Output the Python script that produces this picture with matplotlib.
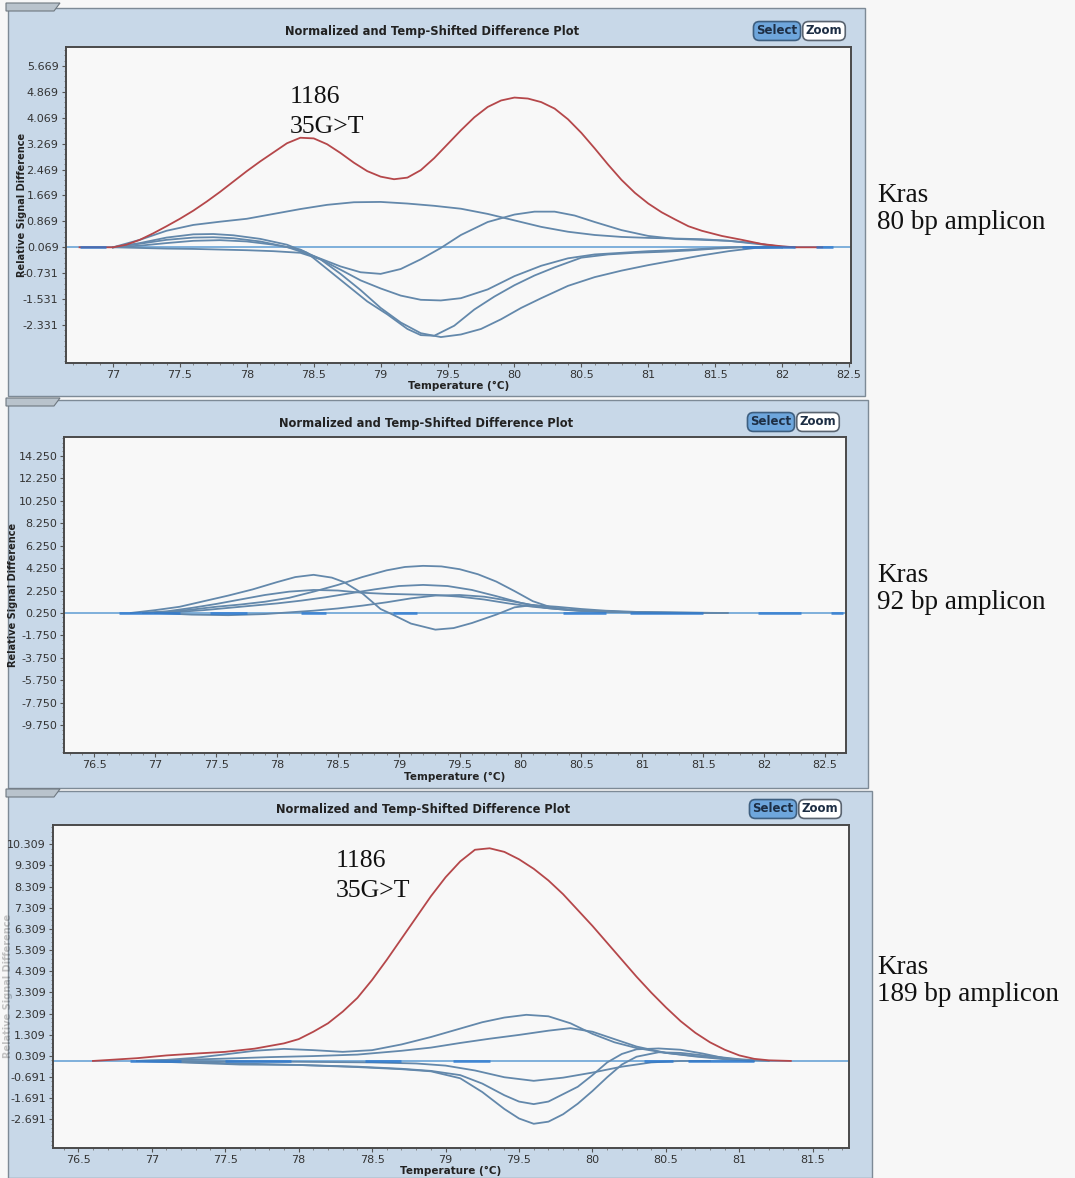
import matplotlib
matplotlib.use("Agg")
import matplotlib.pyplot as plt
from matplotlib.patches import Rectangle, Polygon
from matplotlib.ticker import FixedLocator, AutoMinorLocator

# ---- 80 bp amplicon (top) ----
t80_xticks = [77, 77.5, 78, 78.5, 79, 79.5, 80, 80.5, 81, 81.5, 82, 82.5]
t80_yticks = [5.669, 4.869, 4.069, 3.269, 2.469, 1.669, 0.869, 0.069, -0.731, -1.531, -2.331]
t80_base = 0.069
t80_red_x = [76.75, 77.0, 77.1, 77.2, 77.3, 77.4, 77.5, 77.6, 77.7, 77.8, 77.9, 78.0, 78.1, 78.2,
             78.3, 78.4, 78.5, 78.6, 78.7, 78.8, 78.9, 79.0, 79.1, 79.2, 79.3, 79.4, 79.5, 79.6,
             79.7, 79.8, 79.9, 80.0, 80.1, 80.2, 80.3, 80.4, 80.5, 80.6, 80.7, 80.8, 80.9, 81.0,
             81.1, 81.2, 81.3, 81.4, 81.55, 81.7, 81.85, 82.0, 82.1, 82.3]
t80_red_y = [0.07, 0.07, 0.15, 0.3, 0.5, 0.72, 0.95, 1.2, 1.48, 1.78, 2.1, 2.42, 2.72, 3.0,
             3.28, 3.45, 3.43, 3.25, 2.98, 2.68, 2.42, 2.25, 2.17, 2.22, 2.45, 2.82, 3.25, 3.68,
             4.08, 4.4, 4.6, 4.69, 4.66, 4.55, 4.35, 4.02, 3.6, 3.12, 2.62, 2.15, 1.75, 1.42,
             1.15, 0.93, 0.72, 0.58, 0.42, 0.3, 0.17, 0.1, 0.07, 0.07]
t80_blue = [
    ([77.0, 77.2, 77.4, 77.6, 77.8, 78.0, 78.2, 78.4, 78.6, 78.8, 79.0, 79.2, 79.4, 79.6, 79.8,
      80.0, 80.2, 80.4, 80.6, 80.8, 81.0, 81.2, 81.4, 81.6, 81.8, 82.0, 82.1],
     [0.07, 0.3, 0.58, 0.76, 0.86, 0.95, 1.1, 1.25, 1.38, 1.46, 1.47, 1.42, 1.35, 1.26, 1.1,
      0.9, 0.7, 0.55, 0.45, 0.39, 0.36, 0.34, 0.32, 0.27, 0.18, 0.09, 0.07]),
    ([77.0, 77.2, 77.4, 77.6, 77.75, 77.9, 78.1, 78.3, 78.5, 78.7, 78.85, 79.0, 79.15, 79.3,
      79.45, 79.6, 79.8, 80.0, 80.15, 80.3, 80.45, 80.6, 80.8, 81.0, 81.2, 81.4, 81.6, 81.8, 82.0],
     [0.07, 0.18, 0.3, 0.37, 0.38, 0.35, 0.25, 0.08, -0.2, -0.52, -0.7, -0.75, -0.6, -0.3,
      0.05, 0.45, 0.85, 1.08, 1.17, 1.17, 1.05, 0.85, 0.6, 0.42, 0.33, 0.3, 0.27, 0.2, 0.07]),
    ([77.0, 77.2, 77.4, 77.6, 77.8, 78.0, 78.2, 78.4, 78.55, 78.7, 78.85, 79.0, 79.15, 79.3,
      79.45, 79.6, 79.8, 80.0, 80.2, 80.4, 80.6, 80.8, 81.0, 81.2, 81.4, 81.6, 81.8, 82.0],
     [0.07, 0.12, 0.2, 0.27, 0.29, 0.25, 0.15, 0.0, -0.3, -0.62, -0.95, -1.2, -1.42, -1.55,
      -1.57, -1.5, -1.23, -0.82, -0.5, -0.27, -0.15, -0.1, -0.05, -0.02, 0.02, 0.07, 0.08, 0.07]),
    ([77.0, 77.2, 77.4, 77.6, 77.75, 77.9, 78.1, 78.3, 78.45, 78.6, 78.75, 78.9, 79.05, 79.2,
      79.3, 79.4, 79.55, 79.7, 79.85, 80.0, 80.15, 80.3, 80.5, 80.7, 80.9, 81.1, 81.3, 81.5,
      81.7, 81.9],
     [0.07, 0.2, 0.37, 0.47, 0.48, 0.44, 0.33, 0.15, -0.1, -0.6, -1.1, -1.6, -2.0, -2.45,
      -2.64, -2.66, -2.35, -1.85, -1.45, -1.1, -0.8, -0.55, -0.25, -0.15, -0.1, -0.07, -0.03,
      0.03, 0.07, 0.07]),
    ([77.0, 77.2, 77.4, 77.6, 77.8, 78.0, 78.2, 78.4, 78.55, 78.7, 78.85, 79.0, 79.15, 79.3,
      79.45, 79.6, 79.75, 79.9, 80.05, 80.2, 80.4, 80.6, 80.8, 81.0, 81.2, 81.4, 81.6, 81.8, 82.0],
     [0.07, 0.05, 0.03, 0.02, 0.0, -0.02, -0.05, -0.1, -0.3, -0.75, -1.25, -1.8, -2.25, -2.58,
      -2.7, -2.62, -2.45, -2.15, -1.8, -1.5, -1.12, -0.85, -0.65, -0.48, -0.33, -0.18, -0.05,
      0.05, 0.07]),
]
t80_dash = [(76.75, 76.95), (81.7, 82.1), (82.25, 82.38)]

# ---- 92 bp amplicon (middle) ----
t92_xticks = [76.5, 77, 77.5, 78, 78.5, 79, 79.5, 80, 80.5, 81, 81.5, 82, 82.5]
t92_yticks = [14.25, 12.25, 10.25, 8.25, 6.25, 4.25, 2.25, 0.25, -1.75, -3.75, -5.75, -7.75, -9.75]
t92_base = 0.25
t92_blue = [
    ([76.8, 77.0, 77.2, 77.4, 77.6, 77.8, 78.0, 78.15, 78.3, 78.45, 78.55, 78.7, 78.85, 78.95,
      79.1, 79.3, 79.45, 79.6, 79.8, 79.95, 80.1, 80.3, 80.5, 80.7, 81.0, 81.3, 81.6],
     [0.25, 0.5, 0.8, 1.3, 1.8, 2.35, 3.0, 3.45, 3.65, 3.4, 3.0, 2.0, 0.6, 0.1,
      -0.7, -1.24, -1.1, -0.65, 0.1, 0.75, 0.95, 0.8, 0.6, 0.45, 0.32, 0.27, 0.25]),
    ([76.9, 77.1, 77.3, 77.5, 77.7, 77.9, 78.1, 78.3, 78.5, 78.7, 78.9, 79.05, 79.2, 79.35,
      79.5, 79.65, 79.8, 79.95, 80.1, 80.25, 80.4, 80.6, 80.8, 81.0, 81.3, 81.6],
     [0.25, 0.35, 0.55, 0.8, 1.0, 1.25, 1.6, 2.15, 2.75, 3.45, 4.05, 4.35, 4.45, 4.4,
      4.15, 3.7, 3.05, 2.2, 1.3, 0.75, 0.5, 0.4, 0.35, 0.3, 0.27, 0.25]),
    ([76.9, 77.1, 77.3, 77.5, 77.7, 77.9, 78.1, 78.3, 78.5, 78.7, 78.9, 79.1, 79.3, 79.5,
      79.7, 79.9, 80.1, 80.3, 80.5, 80.8, 81.1, 81.4, 81.7],
     [0.25, 0.4, 0.7, 1.05, 1.45, 1.85, 2.15, 2.3, 2.25, 2.05, 1.95, 1.9, 1.85, 1.7,
      1.45, 1.1, 0.8, 0.6, 0.45, 0.35, 0.28, 0.26, 0.25]),
    ([77.0, 77.2, 77.4, 77.6, 77.8, 78.0, 78.2, 78.4, 78.6, 78.8, 79.0, 79.2, 79.4, 79.6,
      79.8, 80.0, 80.2, 80.4, 80.6, 80.9, 81.2, 81.5],
     [0.25, 0.35, 0.5, 0.7, 0.9, 1.1, 1.35, 1.65, 2.0, 2.35, 2.65, 2.75, 2.65, 2.3,
      1.75, 1.15, 0.7, 0.5, 0.4, 0.3, 0.26, 0.25]),
    ([77.0, 77.3, 77.6, 77.9, 78.1, 78.3, 78.5, 78.7, 78.9, 79.1, 79.3, 79.5, 79.7, 79.9,
      80.1, 80.3, 80.5, 80.8, 81.1, 81.4, 81.7],
     [0.25, 0.1, 0.05, 0.15, 0.3, 0.45, 0.65, 0.9, 1.2, 1.55, 1.8, 1.85, 1.7, 1.35,
      0.95, 0.65, 0.45, 0.35, 0.28, 0.26, 0.25]),
]
t92_dash = [(76.7, 77.2), (77.45, 77.75), (78.2, 78.4), (78.95, 79.15), (80.35, 80.7),
            (80.9, 81.5), (81.95, 82.3), (82.55, 82.65)]

# ---- 189 bp amplicon (bottom) ----
t189_xticks = [76.5, 77, 77.5, 78, 78.5, 79, 79.5, 80, 80.5, 81, 81.5]
t189_yticks = [10.309, 9.309, 8.309, 7.309, 6.309, 5.309, 4.309, 3.309, 2.309, 1.309, 0.309,
               -0.691, -1.691, -2.691]
t189_base = 0.07
t189_red_x = [76.6, 76.9, 77.1, 77.3, 77.5, 77.7, 77.9, 78.0, 78.1, 78.2, 78.3, 78.4, 78.5,
              78.6, 78.7, 78.8, 78.9, 79.0, 79.1, 79.2, 79.3, 79.4, 79.5, 79.6, 79.7, 79.8,
              79.9, 80.0, 80.1, 80.2, 80.3, 80.4, 80.5, 80.6, 80.7, 80.8, 80.9, 81.0, 81.1,
              81.2, 81.35]
t189_red_y = [0.07, 0.2, 0.33, 0.42, 0.5, 0.65, 0.9, 1.1, 1.45, 1.85, 2.4, 3.05, 3.9,
              4.85, 5.85, 6.85, 7.85, 8.75, 9.5, 10.05, 10.12, 9.95, 9.6, 9.15, 8.6, 7.95,
              7.2, 6.45, 5.65, 4.85, 4.05, 3.3, 2.6, 1.95, 1.4, 0.95, 0.6, 0.33, 0.17,
              0.1, 0.07]
t189_blue = [
    ([76.9, 77.1, 77.3, 77.5, 77.7, 77.9, 78.1, 78.3, 78.5, 78.7, 78.9, 79.1, 79.25, 79.4,
      79.55, 79.7, 79.85, 80.0, 80.15, 80.3, 80.5, 80.7, 80.9, 81.1],
     [0.07, 0.12, 0.22, 0.38, 0.55, 0.64, 0.58, 0.5, 0.58, 0.85, 1.2, 1.6, 1.9, 2.12,
      2.25, 2.18, 1.85, 1.35, 0.95, 0.68, 0.45, 0.3, 0.18, 0.07]),
    ([76.9, 77.2, 77.5, 77.8, 78.1, 78.4, 78.7, 78.9, 79.1, 79.3, 79.5, 79.7, 79.85, 80.0,
      80.15, 80.3, 80.5, 80.7, 80.9, 81.1],
     [0.07, 0.12, 0.18, 0.25, 0.3, 0.37, 0.55, 0.7, 0.92, 1.12, 1.3, 1.5, 1.62, 1.45,
      1.1, 0.75, 0.45, 0.28, 0.15, 0.07]),
    ([76.9, 77.5, 78.0, 78.5, 78.8, 79.0, 79.2, 79.4, 79.6, 79.8, 80.0, 80.2, 80.4, 80.6, 80.8],
     [0.07, 0.05, 0.03, 0.0, -0.05, -0.15, -0.38, -0.7, -0.87, -0.72, -0.48, -0.2, 0.0, 0.07, 0.07]),
    ([76.9, 77.2, 77.6, 78.0, 78.4, 78.7, 78.9, 79.1, 79.25, 79.4, 79.5, 79.6, 79.7, 79.8,
      79.9, 80.0, 80.1, 80.2, 80.3, 80.45, 80.6, 80.75, 80.9, 81.1],
     [0.07, 0.0, -0.1, -0.12, -0.2, -0.3, -0.4, -0.6, -1.0, -1.55, -1.85, -1.97, -1.85, -1.5,
      -1.15, -0.6, 0.0, 0.4, 0.62, 0.66, 0.6, 0.42, 0.2, 0.07]),
    ([76.9, 77.2, 77.6, 78.0, 78.4, 78.7, 78.9, 79.1, 79.25, 79.4, 79.5, 79.6, 79.7, 79.8,
      79.9, 80.0, 80.1, 80.2, 80.3, 80.45, 80.6, 80.8, 81.0, 81.2],
     [0.07, 0.02, -0.05, -0.12, -0.22, -0.32, -0.42, -0.75, -1.4, -2.2, -2.65, -2.9, -2.8, -2.45,
      -1.95, -1.35, -0.7, -0.1, 0.27, 0.48, 0.45, 0.3, 0.15, 0.07]),
]
t189_dash = [(76.85, 77.2), (77.5, 77.95), (78.45, 78.7), (79.05, 79.3), (80.35, 80.55),
             (80.65, 81.1)]

# mutant label, left/centre anchor in data units
t80_label_xy = (78.32, 4.25)
t189_label_xy = (78.25, 8.8)

W, H = 1075, 1178
PANEL_BG = "#c8d8e8"
PLOT_BG = "#f8f8f8"
BLUE = "#6388ab"
RED = "#b5474a"
BASE = "#6aa3d6"
DASH = "#2b78d0"
TICK_FONT = ["Liberation Sans Narrow", "DejaVu Sans"]

fig = plt.figure(figsize=(W / 100, H / 100), dpi=100, facecolor="#f7f7f7")


def fx(px):
    return px / W


def fy(py):
    return 1 - py / H


def panel(box, tab_y):
    x0, y0, x1, y1 = box
    fig.patches.append(Rectangle((fx(x0), fy(y1)), fx(x1 - x0), (y1 - y0) / H,
                                 transform=fig.transFigure, facecolor=PANEL_BG,
                                 edgecolor="#7d8a96", lw=1.0, zorder=-3))
    tab = [(fx(x0 - 2), fy(tab_y)), (fx(x0 + 52), fy(tab_y)), (fx(x0 + 46), fy(tab_y + 8)),
           (fx(x0 - 2), fy(tab_y + 8))]
    fig.patches.append(Polygon(tab, closed=True, transform=fig.transFigure,
                               facecolor="#b9c3cc", edgecolor="#6f7880", lw=0.8, zorder=-2))


def buttons(cx, cy):
    fig.text(fx(cx), fy(cy), "Select", ha="center", va="center", fontsize=8.5,
             fontweight="bold", family=TICK_FONT, color="#1d2e44",
             bbox=dict(boxstyle="round,pad=0.25,rounding_size=0.5", fc="#6ea6dc",
                       ec="#3e5f80", lw=1.2))
    fig.text(fx(cx + 47), fy(cy), "Zoom", ha="center", va="center", fontsize=8.5,
             fontweight="bold", family=TICK_FONT, color="#1d2e44",
             bbox=dict(boxstyle="round,pad=0.25,rounding_size=0.5", fc="white",
                       ec="#5a6470", lw=1.2))


def make_axes(rect, xlim, ylim, xticks, yticks, base, title_xy, ylab_x, ylab_alpha=1.0):
    l, t, r, b = rect
    ax = fig.add_axes([fx(l), fy(b), fx(r - l), (b - t) / H])
    ax.set_facecolor(PLOT_BG)
    ax.set_xlim(*xlim)
    ax.set_ylim(*ylim)
    ax.xaxis.set_major_locator(FixedLocator(xticks))
    ax.yaxis.set_major_locator(FixedLocator(yticks))
    ax.set_xticklabels([f"{v:g}" for v in xticks])
    ax.set_yticklabels([f"{v:.3f}" for v in yticks])
    ax.xaxis.set_minor_locator(AutoMinorLocator(5))
    ax.yaxis.set_minor_locator(AutoMinorLocator(5))
    ax.tick_params(which="major", length=3, width=0.8, color="#555", labelsize=8,
                   labelcolor="#333", pad=2)
    ax.tick_params(which="minor", length=1.5, width=0.6, color="#777")
    for lab in ax.get_xticklabels() + ax.get_yticklabels():
        lab.set_family(TICK_FONT)
    for s in ax.spines.values():
        s.set_color("#4a4a4a")
        s.set_linewidth(1.4)
    ax.set_xlabel("Temperature (°C)", fontsize=7.5, fontweight="bold", labelpad=1,
                  color="#222")
    ax.axhline(base, color=BASE, lw=1.2, zorder=1)
    fig.text(fx(title_xy[0]), fy(title_xy[1]), "Normalized and Temp-Shifted Difference Plot",
             ha="center", va="center", fontsize=8.3, fontweight="bold", color="#222")
    fig.text(fx(ylab_x), fy((t + b) / 2), "Relative Signal Difference", rotation=90,
             ha="center", va="center", fontsize=7, fontweight="bold", color="#222",
             alpha=ylab_alpha)
    return ax


def draw(ax, blue, base, dashes, red=None):
    for x0, x1 in dashes:
        ax.plot([x0, x1], [base, base], color=DASH, lw=2.0, alpha=0.75, zorder=4,
                solid_capstyle="butt")
    for xs, ys in blue:
        ax.plot(xs, ys, color=BLUE, lw=1.3, zorder=2, solid_joinstyle="round")
    if red is not None:
        ax.plot(red[0], red[1], color=RED, lw=1.3, zorder=3, solid_joinstyle="round")


def mutant_label(ax, xy):
    ax.text(xy[0], xy[1], "1186\n35G>T", family="Liberation Serif", fontsize=18.5,
            ha="left", va="center", linespacing=1.5, color="#111")


# panel frames
panel((8, 8, 865, 396), 3)
panel((8, 400, 868, 788), 398)
panel((8, 791, 872, 1178), 789)

# top: 80 bp
ax1 = make_axes((65.5, 47, 851, 363), (76.645, 82.515), (-3.5, 6.25), t80_xticks, t80_yticks,
                t80_base, (432, 32), 22)
draw(ax1, t80_blue, t80_base, t80_dash, (t80_red_x, t80_red_y))
mutant_label(ax1, t80_label_xy)
buttons(777, 31)

# middle: 92 bp
ax2 = make_axes((64.4, 436.7, 845.5, 753.3), (76.254, 82.668), (-12.27, 15.97), t92_xticks,
                t92_yticks, t92_base, (426, 423), 13)
draw(ax2, t92_blue, t92_base, t92_dash)
buttons(771, 422)

# bottom: 189 bp
ax3 = make_axes((53, 825, 849, 1147.7), (76.328, 81.746), (-4.03, 11.22), t189_xticks,
                t189_yticks, t189_base, (423, 810), 8, ylab_alpha=0.25)
draw(ax3, t189_blue, t189_base, t189_dash, (t189_red_x, t189_red_y))
mutant_label(ax3, t189_label_xy)
buttons(773, 809)

# amplicon captions
for label, py in [("Kras\n80 bp amplicon", 209), ("Kras\n92 bp amplicon", 589),
                  ("Kras\n189 bp amplicon", 981)]:
    fig.text(fx(877), fy(py), label, family="Liberation Serif", fontsize=19.5,
             ha="left", va="center", linespacing=1.15, color="#111")

fig.savefig("out.png", dpi=100, facecolor=fig.get_facecolor())
